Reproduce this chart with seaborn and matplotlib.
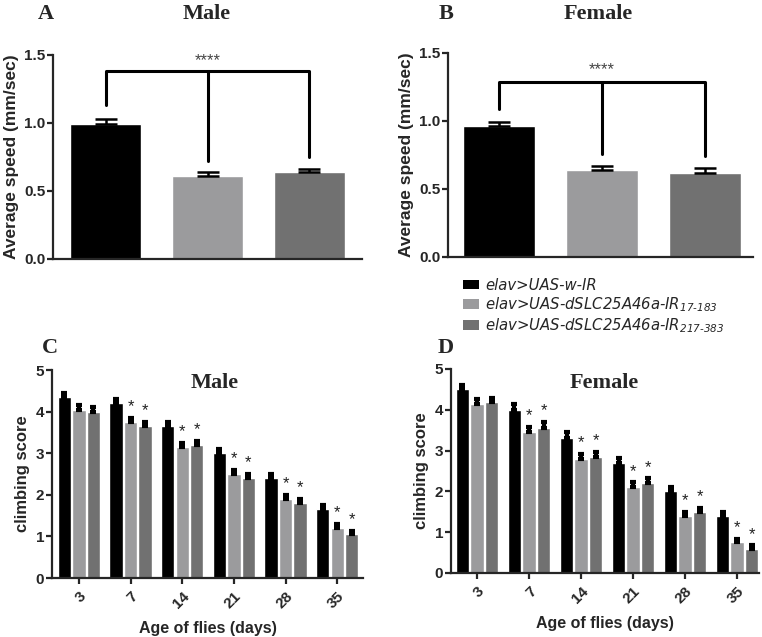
import numpy as np
import pandas as pd
import matplotlib
matplotlib.use("Agg")
import matplotlib.pyplot as plt
from matplotlib.patches import Patch
import seaborn as sns

sns.set_style("ticks")
plt.rcParams['font.family'] = ['Liberation Sans', 'DejaVu Sans']
plt.rcParams['font.weight'] = 'bold'
plt.rcParams['mathtext.fontset'] = 'custom'
plt.rcParams['mathtext.rm'] = 'DejaVu Sans:style=italic:weight=normal'
plt.rcParams['mathtext.it'] = 'DejaVu Sans:style=italic:weight=normal'

# ---------------- data ----------------
genotypes = ["elav>UAS-w-IR",
             "elav>UAS-dSLC25A46a-IR$_{17\u2010183}$",
             "elav>UAS-dSLC25A46a-IR$_{217\u2010383}$"]
colors = ["#000000", "#9b9b9d", "#717171"]

# average speed (mm/sec), mean and SEM
speed_male = [0.99, 0.61, 0.64]
speed_male_err = [0.04, 0.03, 0.02]
speed_female = [0.96, 0.64, 0.62]
speed_female_err = [0.03, 0.03, 0.035]
# bracket height and lower ends of the three drops
bracket_male = [1.38, 1.13, 0.72, 0.75]
bracket_female = [1.29, 1.09, 0.76, 0.74]
stars_y = {"male": 1.46, "female": 1.38}

# climbing score by age
ages = ["3", "7", "14", "21", "28", "35"]
climb_male = [[4.35, 4.05, 4.00],
              [4.20, 3.75, 3.65],
              [3.65, 3.15, 3.20],
              [3.00, 2.50, 2.40],
              [2.40, 1.90, 1.80],
              [1.65, 1.20, 1.05]]
climb_male_err = [[0.10, 0.10, 0.10],
                  [0.10, 0.10, 0.10],
                  [0.10, 0.10, 0.10],
                  [0.10, 0.10, 0.10],
                  [0.10, 0.10, 0.10],
                  [0.10, 0.10, 0.08]]
climb_female = [[4.50, 4.15, 4.18],
                [4.00, 3.45, 3.55],
                [3.30, 2.80, 2.85],
                [2.70, 2.10, 2.20],
                [2.00, 1.40, 1.50],
                [1.40, 0.75, 0.60]]
climb_female_err = [[0.10, 0.12, 0.10],
                    [0.13, 0.13, 0.15],
                    [0.15, 0.12, 0.12],
                    [0.12, 0.12, 0.12],
                    [0.10, 0.10, 0.10],
                    [0.10, 0.08, 0.08]]
# significance marks (age group index, genotype index)
signif = [(a, g) for a in range(1, 6) for g in (1, 2)]

W, H = 762, 637
fig = plt.figure(figsize=(W / 100, H / 100), dpi=100)


def px_axes(left, top, right, bottom):
    return fig.add_axes([left / W, 1 - bottom / H, (right - left) / W, (bottom - top) / H])


def style_axes(ax):
    sns.despine(ax=ax)
    for s in ("left", "bottom"):
        ax.spines[s].set_linewidth(1.6)
    ax.tick_params(width=1.6, length=4.5, labelsize=11)
    ax.tick_params(axis="y", pad=1)


def speed_panel(ax, vals, errs, bracket, sy, xlim):
    df = pd.DataFrame({"genotype": genotypes, "speed": vals})
    sns.barplot(data=df, x="genotype", y="speed", hue="genotype", palette=colors,
                width=0.7, errorbar=None, legend=False, ax=ax, saturation=1)
    xs = [p.get_x() + p.get_width() / 2 for p in ax.patches]
    hs = [p.get_height() for p in ax.patches]
    ax.errorbar(xs, hs, yerr=[np.zeros(len(errs)), errs], fmt="none", ecolor="black",
                elinewidth=1.8, capsize=8, capthick=1.8)
    top, d0, d1, d2 = bracket
    ax.plot([xs[0], xs[2]], [top, top], color="black", lw=2.2, solid_capstyle="butt")
    for x, d in zip(xs, [d0, d1, d2]):
        ax.plot([x, x], [top, d], color="black", lw=2.2)
    ax.text(xs[1], sy, "****", ha="center", va="center", fontsize=12,
            fontweight="normal", color="#444444")
    ax.set_ylim(0, 1.5)
    ax.set_yticks([0, 0.5, 1.0, 1.5])
    ax.set_yticklabels(["0.0", "0.5", "1.0", "1.5"])
    ax.set_xlim(*xlim)
    ax.set_xticks([])
    ax.set_xlabel("")
    ax.set_ylabel("Average speed (mm/sec)", fontsize=12.5, fontweight="bold", labelpad=4)
    style_axes(ax)
    ax.tick_params(axis="x", length=0)


def climb_panel(ax, vals, errs, xlim):
    rows = []
    for i, a in enumerate(ages):
        for j, g in enumerate(genotypes):
            rows.append({"age": a, "genotype": g, "score": vals[i][j]})
    df = pd.DataFrame(rows)
    sns.barplot(data=df, x="age", y="score", hue="genotype", palette=colors,
                width=0.84, gap=0.08, errorbar=None, ax=ax, saturation=1)
    ax.get_legend().remove()
    bar_sets = list(ax.containers)
    for j, cont in enumerate(bar_sets):
        xs = [p.get_x() + p.get_width() / 2 for p in cont]
        hs = [p.get_height() for p in cont]
        e = [errs[i][j] for i in range(len(ages))]
        ax.errorbar(xs, hs, yerr=[np.zeros(len(e)), e], fmt="none", ecolor="black",
                    elinewidth=3, capsize=2.5, capthick=3)
        for (a, g) in signif:
            if g == j:
                ax.text(xs[a], hs[a] + e[a] + 0.27, "*", ha="center", va="center",
                        fontsize=12, fontweight="normal", color="#222222")
    ax.set_ylim(0, 5)
    ax.set_yticks(range(0, 6))
    ax.set_xlim(*xlim)
    ax.set_xlabel("Age of flies (days)", fontsize=11.5, fontweight="bold", labelpad=7)
    ax.set_ylabel("climbing score", fontsize=12, fontweight="bold", labelpad=4)
    style_axes(ax)
    plt.setp(ax.get_xticklabels(), rotation=45, ha="right", rotation_mode="anchor")


axA = px_axes(53, 55, 362, 259)
speed_panel(axA, speed_male, speed_male_err, bracket_male, stars_y["male"], (-0.515, 2.515))
axB = px_axes(448, 53, 753, 257)
speed_panel(axB, speed_female, speed_female_err, bracket_female, stars_y["female"], (-0.5, 2.47))
axC = px_axes(52, 370, 363, 578)
climb_panel(axC, climb_male, climb_male_err, (-0.52, 5.5))
axD = px_axes(451, 369, 759, 573)
climb_panel(axD, climb_female, climb_female_err, (-0.5, 5.42))

serif = ['Liberation Serif', 'DejaVu Serif']
for (x, y, s) in [(46, 14, "A"), (207, 14, "Male"), (446, 14, "B"), (598, 14, "Female"),
                  (50, 348, "C"), (215, 383, "Male"), (446, 348, "D"), (604, 383, "Female")]:
    fig.text(x / W, 1 - y / H, s, ha="center", va="center", fontsize=16,
             fontweight="bold", family=serif)

handles = [Patch(facecolor=c, edgecolor="none") for c in colors]
fig.legend(handles, genotypes, loc="upper left", bbox_to_anchor=(463 / W, 1 - 278 / H),
           frameon=False, prop={"family": "DejaVu Sans", "style": "italic", "size": 10.7,
                                "weight": "normal"},
           handlelength=1.1, handleheight=0.6, handletextpad=0.4, labelspacing=0.15,
           borderpad=0, borderaxespad=0)

fig.savefig("out.png", dpi=100)
